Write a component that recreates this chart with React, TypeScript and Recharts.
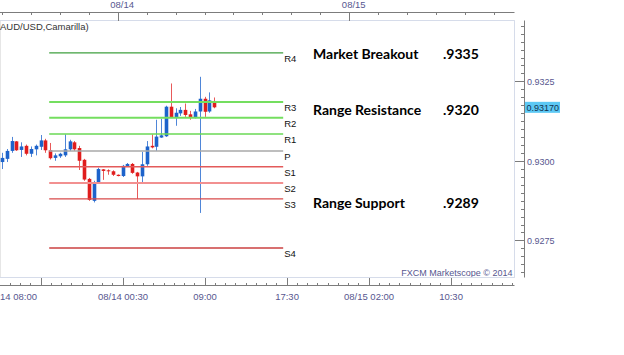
import React from "react"
import { ComposedChart, Bar, XAxis, YAxis, CartesianGrid, ReferenceLine } from "recharts"

// AUD/USD 30 minute candles, oldest first (slot = candle index)
const opens = [0.92998, 0.93008, 0.93033, 0.93063, 0.93036, 0.93049, 0.93024, 0.93038, 0.93046, 0.93066,
  0.93035, 0.93011, 0.93016, 0.93019, 0.93038, 0.9306, 0.93042, 0.93005, 0.92945, 0.92876,
  0.92934, 0.92975, 0.92972, 0.92969, 0.92958, 0.92954, 0.92984, 0.92992, 0.92965, 0.92953,
  0.92991, 0.93049, 0.93046, 0.93075, 0.93079, 0.93172, 0.93138, 0.93151, 0.93162, 0.93148,
  0.93138, 0.93157, 0.93197, 0.93157, 0.9319]
const highs = [0.93027, 0.93039, 0.93077, 0.93064, 0.9306, 0.93053, 0.93047, 0.93053, 0.93083, 0.93071,
  0.93058, 0.93025, 0.93027, 0.93085, 0.93068, 0.93064, 0.93049, 0.93008, 0.92948, 0.92939,
  0.9298, 0.92976, 0.92975, 0.92972, 0.92959, 0.92989, 0.92995, 0.92995, 0.92967, 0.9303,
  0.93064, 0.93085, 0.93131, 0.93134, 0.93175, 0.93245, 0.93167, 0.93171, 0.93182, 0.93159,
  0.93165, 0.93266, 0.93203, 0.93217, 0.93201]
const lows = [0.92976, 0.92998, 0.93027, 0.93033, 0.93014, 0.93019, 0.93014, 0.93019, 0.93036, 0.93027,
  0.93006, 0.93002, 0.93011, 0.93014, 0.93033, 0.93033, 0.92973, 0.92939, 0.92876, 0.92871,
  0.92932, 0.92942, 0.92958, 0.92954, 0.92953, 0.92951, 0.92983, 0.92961, 0.92882, 0.92932,
  0.92986, 0.93041, 0.93033, 0.93074, 0.93077, 0.93137, 0.93112, 0.93143, 0.9314, 0.93131,
  0.93135, 0.92838, 0.9314, 0.93153, 0.93167]
const closes = [0.93011, 0.93033, 0.93064, 0.93035, 0.93047, 0.93024, 0.93039, 0.93049, 0.93066, 0.93035,
  0.9301, 0.93019, 0.93024, 0.93038, 0.93063, 0.93038, 0.93002, 0.92943, 0.92879, 0.92934,
  0.92976, 0.9297, 0.92969, 0.92958, 0.92954, 0.92986, 0.92992, 0.92964, 0.92953, 0.92991,
  0.93047, 0.93044, 0.93078, 0.93082, 0.93172, 0.93138, 0.93153, 0.93162, 0.93146, 0.93138,
  0.93157, 0.93197, 0.93156, 0.93192, 0.9317]

// camarilla pivots for the session
const pivotNames = ["R4", "R3", "R2", "R1", "P", "S1", "S2", "S3", "S4"]
const pivotLevels = [0.93341, 0.93187, 0.93137, 0.93086, 0.93033, 0.92983, 0.92932, 0.92882, 0.92728]
const sessionStart = 9.7
const sessionEnd = 58.2

const bottomTickSlots = [8, 25, 42, 59, 76, 93]
const bottomTickLabels = ["14 08:00", "08/14 00:30", "09:00", "17:30", "08/15 02:00", "10:30"]
const topTickSlots = [24, 72]
const topTickLabels = ["08/14", "08/15"]
const priceTicks = [0.9275, 0.93, 0.9325]

const noteTitles = ["Market Breakout", "Range Resistance", "Range Support"]
const noteValues = [".9335", ".9320", ".9289"]

const X_DOMAIN: [number, number] = [-0.5, 106.15]
const Y_DOMAIN: [number, number] = [0.92635, 0.93443]

const FONT = "'Liberation Sans', Arial, sans-serif"
const AXIS = "#7c7c7c"
const AXIS_TEXT = "#57578f"
const FRAME = "#d6dcea"
const BLUE = "#1d63cb"
const BLUE_WICK = "#4f86d8"
const RED = "#e01d1d"
const RED_WICK = "#e85a5a"

const PIVOT_STYLE: Record<string, { stroke: string; width: number }> = {
  R4: { stroke: "#3f9f3f", width: 1.2 },
  R3: { stroke: "#74de5f", width: 2 },
  R2: { stroke: "#74de5f", width: 2 },
  R1: { stroke: "#6ad954", width: 1.6 },
  P: { stroke: "#a9a9a9", width: 1.5 },
  S1: { stroke: "#e35a5a", width: 1.6 },
  S2: { stroke: "#f29090", width: 2 },
  S3: { stroke: "#d84a4a", width: 1.2 },
  S4: { stroke: "#d87070", width: 2 },
}

const rows = opens.map((open, i) => ({
  slot: i,
  open,
  close: closes[i],
  high: highs[i],
  low: lows[i],
  range: [lows[i], highs[i]],
}))

const lastClose = closes[closes.length - 1]

const topTicks: number[] = []
for (let s = 0; s <= 102; s += 6) topTicks.push(s)

const bottomTicks: number[] = []
for (let s = 8 - 3 * 2.125; s <= 106; s += 2.125) bottomTicks.push(s)

const rightTicks: number[] = []
for (let k = 0; k < 32; k++) rightTicks.push(Math.round((0.9265 + k * 0.00025) * 1e5) / 1e5)
rightTicks.push(lastClose)

function Candle(props: any) {
  const { x, y, width, height, payload } = props
  if (x == null || y == null || !payload) return null
  const top = height < 0 ? y + height : y
  const h = Math.abs(height)
  const { open, close, high, low } = payload
  const span = high - low || 1
  const py = (v: number) => top + ((high - v) / span) * h
  const up = close >= open
  const cx = Math.round(x + width / 2) + 0.5
  const bTop = py(Math.max(open, close))
  const bH = Math.max(1, py(Math.min(open, close)) - bTop)
  return (
    <g>
      <line x1={cx} x2={cx} y1={top} y2={top + h} stroke={up ? BLUE_WICK : RED_WICK} strokeWidth={1} />
      <rect x={cx - 1.8} y={bTop} width={3.6} height={bH} fill={up ? BLUE : RED} />
    </g>
  )
}

function BottomTick({ x, y, payload }: any) {
  const i = bottomTickSlots.indexOf(payload.value)
  if (i < 0) return <line x1={x} x2={x} y1={y} y2={y - 3} stroke={AXIS} shapeRendering="crispEdges" />
  const first = i === 0
  return (
    <g>
      <line x1={x} x2={x} y1={y} y2={y - 8} stroke={AXIS} shapeRendering="crispEdges" />
      <text x={first ? x - 4 : x} y={y + 14} textAnchor={first ? "end" : "middle"} fontSize={9.5} fill={AXIS_TEXT} fontFamily={FONT}>
        {bottomTickLabels[i]}
      </text>
    </g>
  )
}

function TopTick({ x, y, payload }: any) {
  const i = topTickSlots.indexOf(payload.value)
  if (i < 0) return <line x1={x} x2={x} y1={y} y2={y + 2.5} stroke={AXIS} shapeRendering="crispEdges" />
  return (
    <g>
      <line x1={x} x2={x} y1={y} y2={y + 8} stroke={AXIS} shapeRendering="crispEdges" />
      <text x={x + 4} y={y - 5} textAnchor="middle" fontSize={9.5} fill={AXIS_TEXT} fontFamily={FONT}>
        {topTickLabels[i]}
      </text>
    </g>
  )
}

function RightTick({ x, y, payload }: any) {
  const v = payload.value
  if (v === lastClose) {
    return (
      <g>
        <rect x={x + 0.5} y={y - 5.5} width={35} height={11} fill="#5cc8f4" />
        <text x={x + 2} y={y + 3.3} fontSize={9} fill="#14324f" fontFamily={FONT}>
          {v.toFixed(5)}
        </text>
      </g>
    )
  }
  const major = priceTicks.some((m) => Math.abs(m - v) < 1e-6)
  if (!major) return <line x1={x - 3.5} x2={x} y1={y} y2={y} stroke={AXIS} shapeRendering="crispEdges" />
  return (
    <g>
      <line x1={x - 10} x2={x} y1={y} y2={y} stroke={AXIS} shapeRendering="crispEdges" />
      <text x={x + 2.5} y={y + 3.5} fontSize={9} fill={AXIS_TEXT} fontFamily={FONT}>
        {v.toFixed(4)}
      </text>
    </g>
  )
}

const pivotLabel = (name: string) => (p: any) => {
  const vb = p.viewBox || {}
  return (
    <text x={vb.x + vb.width + 1} y={vb.y + 9} fontSize={9.5} fill="#111" fontFamily={FONT}>
      {name}
    </text>
  )
}

const noteY = [59.3, 115, 208.3]

export default function App() {
  return (
    <div style={{ position: "absolute", left: 0, top: 0, width: 624, height: 355, background: "#fff" }}>
      <ComposedChart
        width={624}
        height={355}
        data={rows}
        margin={{ top: 0.5, right: 39.5, bottom: 49.5, left: 0 }}
        style={{ fontFamily: FONT }}
      >
        <XAxis xAxisId="t1" orientation="top" type="number" scale="linear" dataKey="slot" domain={X_DOMAIN}
          allowDataOverflow height={8} tick={false} tickLine={false} axisLine={{ stroke: FRAME }} />
        <XAxis xAxisId="t2" orientation="top" type="number" scale="linear" dataKey="slot" domain={X_DOMAIN}
          allowDataOverflow height={12} ticks={topTicks} interval={0} tickSize={0} tickMargin={0}
          tickLine={false} tick={TopTick} axisLine={{ stroke: AXIS }} />
        <XAxis xAxisId="b1" orientation="bottom" type="number" scale="linear" dataKey="slot" domain={X_DOMAIN}
          allowDataOverflow height={8} ticks={bottomTickSlots} tick={false} tickLine={false}
          axisLine={{ stroke: FRAME }} />
        <XAxis xAxisId="b2" orientation="bottom" type="number" scale="linear" dataKey="slot" domain={X_DOMAIN}
          allowDataOverflow height={20} ticks={bottomTicks} interval={0} tickSize={0} tickMargin={0}
          tickLine={false} tick={BottomTick} axisLine={{ stroke: AXIS }} />
        <YAxis yAxisId="r1" orientation="right" type="number" domain={Y_DOMAIN} allowDataOverflow width={10}
          ticks={priceTicks} tick={false} tickLine={false} axisLine={{ stroke: FRAME }} />
        <YAxis yAxisId="r2" orientation="right" type="number" domain={Y_DOMAIN} allowDataOverflow width={60}
          ticks={rightTicks} interval={0} tickSize={0} tickMargin={0} tickLine={false} tick={RightTick}
          axisLine={{ stroke: AXIS }} />

        <CartesianGrid xAxisId="b1" yAxisId="r1" stroke="#e6e6e6" shapeRendering="crispEdges" />

        {pivotNames.map((name, i) => (
          <ReferenceLine
            key={name}
            xAxisId="b1"
            yAxisId="r1"
            segment={[{ x: sessionStart, y: pivotLevels[i] }, { x: sessionEnd, y: pivotLevels[i] }]}
            stroke={PIVOT_STYLE[name].stroke}
            strokeWidth={PIVOT_STYLE[name].width}
            label={pivotLabel(name)}
          />
        ))}

        <Bar xAxisId="b1" yAxisId="r1" dataKey="range" barSize={4} shape={Candle} isAnimationActive={false} />

        <text x={0} y={29.5} fontSize={9.5} fill="#333" fontFamily={FONT}>AUD/USD,Camarilla)</text>
        <text x={512.5} y={275.5} textAnchor="end" fontSize={9} fill={AXIS_TEXT} fontFamily={FONT}>
          FXCM Marketscope © 2014
        </text>
        {noteTitles.map((t, i) => (
          <g key={t} fontFamily="Lato, 'Open Sans', sans-serif" fontWeight={700} fontSize={14} fill="#000">
            <text x={313} y={noteY[i]}>{t}</text>
            <text x={443} y={noteY[i]}>{noteValues[i]}</text>
          </g>
        ))}
      </ComposedChart>
    </div>
  )
}
